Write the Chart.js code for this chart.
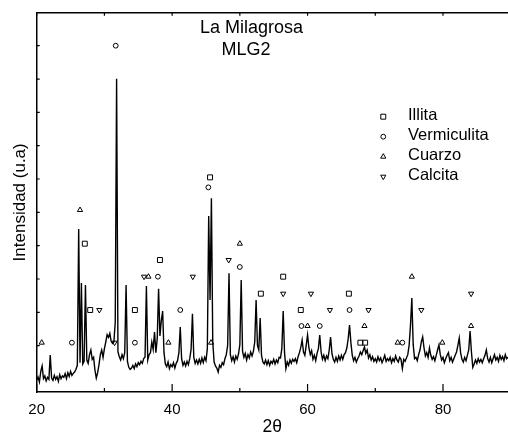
<!DOCTYPE html>
<html lang="es">
<head>
<meta charset="utf-8">
<title>La Milagrosa MLG2</title>
<script src="https://cdn.jsdelivr.net/npm/chart.js"></script>
<style>
  html, body { margin: 0; padding: 0; background: #fff; overflow: hidden; }
  #wrap { width: 508px; height: 434px; position: relative; }
</style>
</head>
<body>
<div id="wrap"><canvas id="xrd"></canvas></div>
<script>
// scan: 2theta from 20.0 deg, step 0.2 deg
const scanStart = 20.0;
const scanStep = 0.2;
const counts = [
  36, 45, 30, 62, 78, 40, 48, 33, 44, 38,        // 20.0
  111, 42, 35, 50, 38, 46, 32, 52, 40, 48,       // 22.0
  44, 55, 40, 58, 47, 62, 50, 56, 60, 68,        // 24.0
  80, 489, 88, 327, 84, 92, 321, 96, 86, 112,    // 26.0
  126, 98, 104, 66, 42, 58, 82, 112, 126, 104,   // 28.0
  130, 150, 172, 164, 176, 152, 146, 150, 210, 940, // 30.0
  120, 106, 96, 112, 100, 118, 321, 92, 74, 68,  // 32.0
  72, 80, 70, 84, 76, 88, 82, 92, 86, 100,       // 34.0
  105, 318, 96, 112, 118, 150, 128, 180, 118, 160, // 36.0
  310, 168, 214, 243, 118, 84, 76, 90, 70, 82,   // 38.0
  76, 88, 72, 86, 94, 118, 195, 100, 80, 90,     // 40.0
  78, 92, 82, 100, 128, 235, 104, 86, 96, 84,    // 42.0
  98, 86, 102, 88, 104, 94, 130, 528, 276, 581,  // 44.0
  150, 90, 78, 72, 60, 80, 74, 88, 82, 100,      // 46.0
  112, 140, 356, 112, 94, 106, 90, 108, 98, 114, // 48.0
  142, 336, 122, 104, 116, 96, 112, 102, 120, 108, // 50.0
  122, 150, 276, 140, 126, 222, 110, 90, 84, 96, // 52.0
  82, 94, 80, 92, 86, 98, 84, 96, 88, 104,       // 54.0
  102, 130, 243, 118, 70, 90, 80, 96, 86, 98,    // 56.0
  92, 100, 88, 106, 118, 134, 156, 120, 110, 140, // 58.0
  171, 132, 112, 124, 98, 110, 94, 116, 130, 171, // 60.0
  120, 98, 110, 94, 108, 100, 126, 165, 116, 98, // 62.0
  90, 104, 92, 108, 96, 110, 98, 112, 118, 132,  // 64.0
  160, 201, 148, 110, 94, 104, 90, 100, 108, 120, // 66.0
  112, 124, 135, 116, 126, 102, 112, 96, 106, 92, // 68.0
  100, 90, 106, 94, 102, 88, 98, 110, 92, 100,   // 70.0
  94, 104, 88, 100, 92, 108, 96, 90, 104, 98,    // 72.0
  70, 98, 92, 102, 112, 140, 200, 282, 142, 100, // 74.0
  104, 94, 112, 126, 150, 165, 132, 108, 118, 104, // 76.0
  132, 110, 98, 106, 94, 110, 126, 141, 112, 96, // 78.0
  104, 88, 100, 110, 118, 94, 104, 90, 100, 110, // 80.0
  120, 140, 162, 118, 98, 90, 104, 94, 110, 126, // 82.0
  183, 120, 74, 84, 96, 86, 100, 90, 98, 88,     // 84.0
  100, 110, 126, 100, 90, 104, 88, 100, 112, 96, // 86.0
  104, 92, 110, 98, 106, 94, 112, 100, 104       // 88.0
];

// phase markers [2theta, height]
const illita = [[27.1, 445], [27.9, 246], [34.5, 246], [38.2, 396], [45.6, 644], [53.1, 295],
  [56.4, 346], [59.0, 246], [66.1, 295], [67.8, 148], [68.5, 148]];
const vermiculita = [[25.2, 148], [31.67, 1039], [34.5, 148], [37.9, 346], [41.2, 246], [45.35, 614],
  [50.0, 375], [59.1, 198], [61.8, 198], [66.2, 246], [74.0, 148]];
const cuarzo = [[20.74, 148], [26.4, 546], [36.5, 346], [39.45, 148], [45.75, 148], [50.0, 445],
  [60.0, 198], [68.4, 198], [73.3, 148], [75.4, 346], [79.9, 148], [84.15, 198]];
const calcita = [[29.25, 246], [31.5, 148], [35.85, 346], [43.05, 346], [48.35, 396], [56.4, 295],
  [60.5, 295], [63.3, 246], [69.0, 246], [76.8, 246], [84.15, 295]];

const xLabelTicks = [20, 40, 60, 80];
const xMinorTicks = [30, 50, 70];
const yTickValues = [39, 139, 239, 339, 439, 539, 639, 739, 839, 939, 1039];

const FONT = "'Liberation Sans', Arial, sans-serif";

const trace = counts.map((c, i) => ({ x: +(scanStart + i * scanStep).toFixed(1), y: c }));

function marker(label, data, style, radius, rotation) {
  return {
    type: 'scatter', label: label, data: data,
    pointStyle: style, pointRadius: radius, pointRotation: rotation || 0,
    pointBorderColor: '#000', pointBackgroundColor: 'rgba(0,0,0,0)', pointBorderWidth: 1,
    pointHoverRadius: radius, showLine: false
  };
}

const phases = [
  marker('Illita', illita, 'rect', 3.5),
  marker('Vermiculita', vermiculita, 'circle', 2.4),
  marker('Cuarzo', cuarzo, 'triangle', 3),
  marker('Calcita', calcita, 'triangle', 3, 180)
];

// inward ticks, top frame, notes and the phase key
const decor = {
  id: 'decor',
  afterDraw(chart) {
    const { ctx, chartArea: a, scales: { x, y } } = chart;
    ctx.save();
    ctx.strokeStyle = '#000';
    ctx.lineWidth = 1.5;
    ctx.beginPath();
    ctx.moveTo(a.left, a.top);
    ctx.lineTo(a.right, a.top);
    ctx.stroke();

    ctx.lineWidth = 1.2;
    ctx.beginPath();
    xLabelTicks.concat(xMinorTicks).forEach(v => {
      const px = x.getPixelForValue(v);
      const len = xLabelTicks.includes(v) ? 8 : 4;
      ctx.moveTo(px, a.bottom); ctx.lineTo(px, a.bottom - len);
      ctx.moveTo(px, a.top); ctx.lineTo(px, a.top + 3);
    });
    yTickValues.forEach(v => {
      const py = y.getPixelForValue(v);
      ctx.moveTo(a.left, py); ctx.lineTo(a.left + 3, py);
    });
    ctx.stroke();

    ctx.fillStyle = '#000';
    ctx.font = '18px ' + FONT;
    ctx.textAlign = 'left';
    ctx.textBaseline = 'alphabetic';
    ctx.fillText('La Milagrosa', x.getPixelForValue(44.12), y.getPixelForValue(1076));
    ctx.fillText('MLG2', x.getPixelForValue(47.3), y.getPixelForValue(1011));

    const rows = [826, 766, 706, 646];
    ctx.font = '16.5px ' + FONT;
    ctx.textBaseline = 'middle';
    ctx.lineWidth = 1;
    phases.forEach((ds, i) => {
      const sx = x.getPixelForValue(71.18);
      const sy = y.getPixelForValue(rows[i]);
      ctx.fillStyle = 'rgba(0,0,0,0)';
      Chart.helpers.drawPoint(ctx, {
        pointStyle: ds.pointStyle, radius: ds.pointRadius, rotation: ds.pointRotation, borderWidth: 1
      }, sx, sy);
      ctx.fillStyle = '#000';
      ctx.fillText(ds.label, x.getPixelForValue(74.83), sy - 1);
    });
    ctx.restore();
  }
};

new Chart(document.getElementById('xrd'), {
  type: 'scatter',
  data: {
    datasets: [{
      label: 'MLG2',
      data: trace,
      showLine: true,
      borderColor: '#000',
      borderWidth: 1.4,
      pointRadius: 0,
      pointHoverRadius: 0,
      tension: 0
    }].concat(phases)
  },
  options: {
    responsive: true,
    maintainAspectRatio: false,
    animation: false,
    events: [],
    layout: { autoPadding: false, padding: { left: 9.8, top: 12.7, right: 0, bottom: 0 } },
    plugins: { legend: { display: false }, tooltip: { enabled: false } },
    scales: {
      x: {
        type: 'linear', min: 20, max: 89.6,
        afterBuildTicks: s => { s.ticks = xLabelTicks.map(v => ({ value: v })); },
        ticks: { font: { family: FONT, size: 15 }, color: '#000', padding: 8.5, maxRotation: 0, autoSkip: false },
        grid: { display: false, drawTicks: false },
        border: { display: true, color: '#000', width: 1.5 },
        title: {
          display: true, text: '2θ', color: '#000',
          font: { family: FONT, size: 17.5, lineHeight: 0.8 }, padding: { top: -7, bottom: 0 }
        }
      },
      y: {
        type: 'linear', min: 0, max: 1138,
        afterBuildTicks: s => { s.ticks = yTickValues.map(v => ({ value: v })); },
        ticks: { display: false },
        grid: { display: false, drawTicks: false },
        border: { display: true, color: '#000', width: 1.5 },
        title: {
          display: true, text: 'Intensidad (u.a)', color: '#000',
          font: { family: FONT, size: 17, lineHeight: 1.2 }, padding: { top: 0, bottom: 6.5 }
        }
      }
    }
  },
  plugins: [decor]
});
</script>
</body>
</html>
